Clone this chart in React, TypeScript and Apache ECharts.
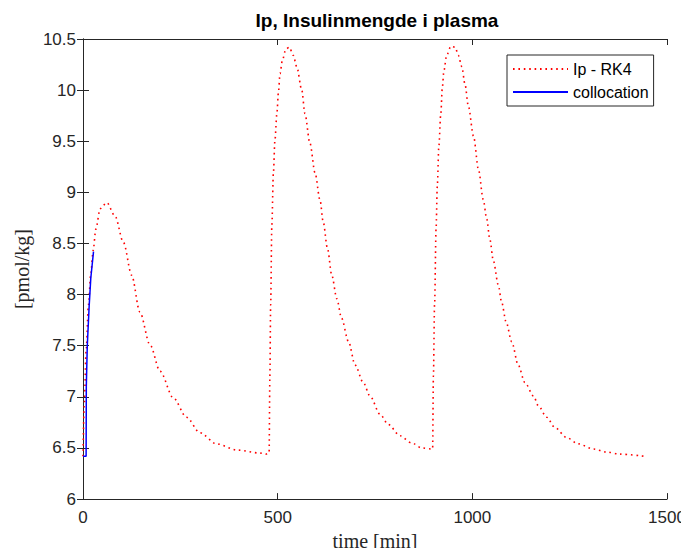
import React, { useEffect, useRef } from "react";
import * as echarts from "echarts";

const title = "Ip, Insulinmengde i plasma";
const xName = "time [min]";
const yName = "[pmol/kg]";
const xTicks = { min: 0, max: 1500, interval: 500 };
const yTicks = { min: 6, max: 10.5, interval: 0.5 };

const rk4Time = [0, 3, 8, 14, 20, 26, 33, 44, 61, 82, 104, 125, 146, 172, 198, 232, 266, 300, 343, 395, 455, 470, 478, 480, 482, 485, 489, 493, 498, 502, 506, 512, 521, 530, 540, 549, 562, 570, 583, 596, 609, 617, 628, 639, 652, 664, 682, 699, 720, 737, 763, 784, 814, 844, 870, 896, 898, 900, 903, 907, 910, 914, 919, 923, 927, 934, 945, 956, 964, 973, 981, 990, 1003, 1016, 1028, 1037, 1045, 1054, 1067, 1075, 1087, 1101, 1118, 1135, 1157, 1170, 1191, 1212, 1243, 1272, 1311, 1345, 1379, 1440];
const rk4Value = [6.42, 6.9, 7.45, 7.9, 8.2, 8.43, 8.64, 8.84, 8.9, 8.77, 8.51, 8.19, 7.83, 7.51, 7.25, 6.99, 6.8, 6.65, 6.54, 6.48, 6.45, 6.44, 6.45, 7.2, 7.9, 8.67, 9.19, 9.51, 9.77, 9.98, 10.16, 10.29, 10.4, 10.42, 10.34, 10.23, 10.0, 9.77, 9.48, 9.19, 8.92, 8.71, 8.45, 8.19, 7.96, 7.77, 7.54, 7.31, 7.14, 7.01, 6.83, 6.73, 6.62, 6.55, 6.5, 6.49, 6.49, 7.2, 7.9, 8.66, 9.06, 9.45, 9.77, 10.03, 10.19, 10.34, 10.43, 10.42, 10.34, 10.23, 10.06, 9.84, 9.55, 9.22, 8.93, 8.74, 8.54, 8.33, 8.09, 7.93, 7.73, 7.54, 7.31, 7.14, 7.01, 6.91, 6.8, 6.7, 6.6, 6.54, 6.49, 6.46, 6.44, 6.42];

const collocTime = [0, 5, 8, 8.5, 11, 16, 20, 27];
const collocValue = [6.42, 6.42, 6.42, 7.1, 7.5, 7.9, 8.16, 8.42];

const seriesNames = ["Ip - RK4", "collocation"];

const AX = "#262626";

export default function App() {
  const ref = useRef<HTMLDivElement>(null);
  useEffect(() => {
    if (!ref.current) return;
    const chart = echarts.init(ref.current, undefined, { renderer: "svg" });
    const tickStyle = { show: true, inside: true, length: 6, lineStyle: { color: AX, width: 1 } };
    const lineStyle = { show: true, lineStyle: { color: AX, width: 1 } };
    const sans = "Liberation Sans, Arial, sans-serif";
    const serif = "Liberation Serif, Times New Roman, serif";
    const labelFont = { color: AX, fontSize: 17, fontFamily: sans };
    chart.setOption({
      animation: false,
      backgroundColor: "#ffffff",
      title: {
        text: title,
        left: 372,
        top: 6,
        textAlign: "center",
        textStyle: { fontSize: 19, fontWeight: "bold", color: "#000", fontFamily: sans },
      },
      grid: { left: 83, right: 22, top: 39, bottom: 54, containLabel: false },
      legend: {
        left: 507,
        top: 55,
        orient: "vertical",
        data: seriesNames,
        itemWidth: 55,
        itemHeight: 14,
        itemGap: 7,
        padding: [6, 5, 6, 5],
        borderColor: AX,
        borderWidth: 1,
        borderRadius: 0,
        backgroundColor: "#fff",
        itemStyle: { opacity: 0 },
        textStyle: { color: "#000", fontSize: 16, fontFamily: sans },
      },
      xAxis: [
        {
          type: "value",
          position: "bottom",
          ...xTicks,
          axisLine: lineStyle,
          axisTick: tickStyle,
          splitLine: { show: false },
          axisLabel: { ...labelFont, margin: 10, formatter: (v: number) => String(v) },
          name: xName,
          nameLocation: "middle",
          nameGap: 26,
          nameTextStyle: { color: AX, fontSize: 20, fontFamily: serif },
        },
        {
          type: "value",
          position: "top",
          ...xTicks,
          axisLine: lineStyle,
          axisTick: tickStyle,
          splitLine: { show: false },
          axisLabel: { show: false },
        },
      ],
      yAxis: [
        {
          type: "value",
          position: "left",
          ...yTicks,
          axisLine: lineStyle,
          axisTick: tickStyle,
          splitLine: { show: false },
          axisLabel: { ...labelFont, margin: 7, formatter: (v: number) => String(v) },
          name: yName,
          nameLocation: "middle",
          nameGap: 51,
          nameTextStyle: { color: AX, fontSize: 20, fontFamily: serif },
        },
        {
          type: "value",
          position: "right",
          ...yTicks,
          axisLine: lineStyle,
          axisTick: tickStyle,
          splitLine: { show: false },
          axisLabel: { show: false },
        },
      ],
      series: [
        {
          name: seriesNames[0],
          type: "line",
          data: rk4Time.map((t, i) => [t, rk4Value[i]]),
          symbol: "none",
          smooth: 0.3,
          smoothMonotone: "x",
          lineStyle: { color: "#ff0000", width: 1.6, type: [1.6, 3.8] },
          itemStyle: { color: "#ff0000" },
          z: 2,
        },
        {
          name: seriesNames[1],
          type: "line",
          data: collocTime.map((t, i) => [t, collocValue[i]]),
          symbol: "none",
          lineStyle: { color: "#0000ff", width: 1.5, type: "solid" },
          itemStyle: { color: "#0000ff" },
          z: 3,
        },
      ],
    });
    return () => chart.dispose();
  }, []);
  return <div ref={ref} style={{ width: 689, height: 556, margin: -8 }} />;
}
